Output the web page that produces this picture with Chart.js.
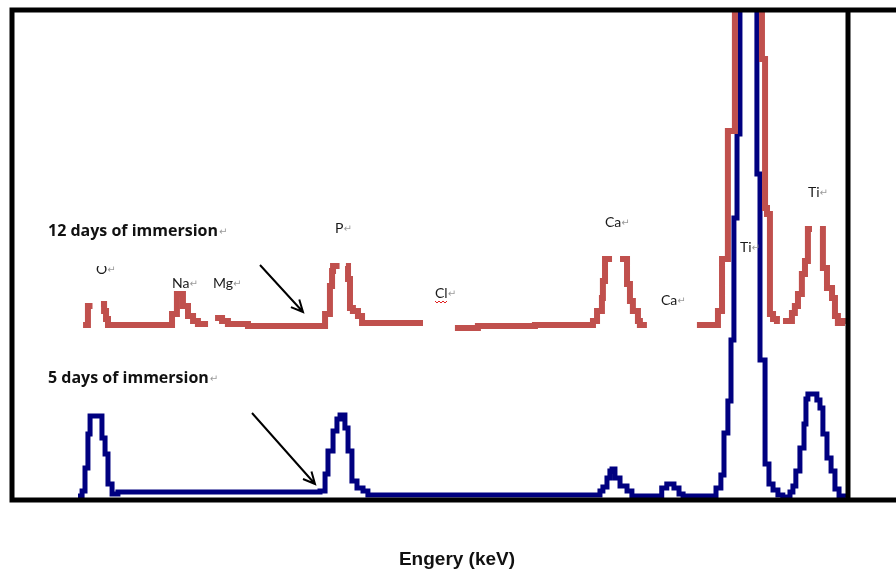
<!DOCTYPE html>
<html>
<head>
<meta charset="utf-8">
<script src="https://cdn.jsdelivr.net/npm/chart.js@4.4.0/dist/chart.umd.min.js"></script>
<style>
  html, body { margin: 0; padding: 0; background: #fff; }
  #wrap { width: 896px; height: 570px; }
</style>
</head>
<body>
<div id="wrap"><canvas id="eds"></canvas></div>
<script>
// EDS spectra. energy in keV, intensity in arbitrary units.
// null = place where the original trace is hidden under a text box
var energy12 = [0.436, 0.466, 0.494, 0.52, 0.546, 0.565, 0.577, 0.589, 0.969, 0.982, 1.012, 1.049, 1.080, 1.111, 1.141, 1.203, 1.22,
  1.246, 1.289, 1.325, 1.448, 1.921, 1.951, 1.964, 1.970, 2.010, 2.03, 2.049, 2.062, 2.074, 2.092, 2.123, 2.148, 2.522, 2.6,
  2.718, 2.859, 3.209, 3.565, 3.590, 3.620, 3.626, 3.639, 3.682, 3.70, 3.731, 3.774, 3.792, 3.810, 3.841, 3.853, 3.896, 4.0,
  4.203, 4.332, 4.357, 4.393, 4.436, 4.602, 4.621, 4.633, 4.651, 4.670, 4.694, 4.712, 4.72,
  4.731, 4.786, 4.804, 4.823, 4.847, 4.866, 4.884, 4.909, 4.93, 4.958, 4.976, 5.001, 5.032, 5.050, 5.068, 5.093, 5.117];
var counts12 = [175, 194, 194, null, 196, 189, 181, 175, 175, 186, 206, 194, 184, 179, 176, 176, null,
  182, 179, 176, 174, 186, 214, 229, 234, 234, null, 234, 221, 192, 189, 184, 177, 177, null,
  172, 174, 175, 179, 189, 202, 219, 241, 241, null, 241, 216, 199, 189, 179, 175, 175, null,
  175, 189, 241, 369, 560, 441, 292, 286, 186, 181, 179, 179, null,
  179, 187, 194, 206, 226, 239, 271, 271, null, 271, 232, 212, 202, 184, 177, 179, 179];

var energy5 = [0.405, 0.430, 0.448, 0.466, 0.479, 0.552, 0.571, 0.589, 0.614, 0.650, 1.890, 1.921, 1.939, 1.970, 1.994,
  2.013, 2.043, 2.062, 2.086, 2.117, 2.154, 2.184, 3.608, 3.626, 3.651, 3.669, 3.682, 3.700, 3.731, 3.774, 3.804,
  3.987, 4.018, 4.062, 4.093, 4.118, 4.320, 4.350, 4.369, 4.393, 4.412, 4.430, 4.449, 4.467, 4.571, 4.590, 4.621,
  4.645, 4.670, 4.700, 4.730, 4.774, 4.792, 4.810, 4.835, 4.860, 4.872, 4.884, 4.939, 4.958, 4.976, 5.001, 5.026,
  5.050, 5.075, 5.117];
var counts5 = [4, 9, 32, 66, 84, 62, 46, 16, 6, 8, 9, 26, 49, 69, 81,
  85, 72, 49, 19, 12, 9, 5, 9, 13, 22, 29, 31, 22, 14, 9, 4,
  12, 16, 12, 6, 4, 12, 25, 67, 99, 160, 282, 366, 560, 326, 140, 36,
  16, 10, 5, 3, 8, 14, 29, 52, 76, 101, 106, 100, 92, 66, 42, 29,
  11, 4, 3];

var seriesNames = ["12 days of immersion", "5 days of immersion"];
var peakNames = ["O", "Na", "Mg", "P", "Cl", "Ca", "Ca", "Ti", "Ti"];
var axisTitle = "Engery (keV)";

function toPoints(xs, ys) {
  return xs.map(function (x, i) { return { x: x, y: ys[i] }; });
}

// text boxes, arrows and the frame of the original figure
var extras = {
  id: "extras",
  afterDraw: function (chart) {
    var ctx = chart.ctx, a = chart.chartArea, w = chart.width;
    ctx.save();

    // frame: top and bottom run out to the page edge
    ctx.strokeStyle = "#000";
    ctx.lineWidth = 5;
    ctx.beginPath();
    ctx.moveTo(w, a.top);
    ctx.lineTo(a.left, a.top);
    ctx.lineTo(a.left, a.bottom);
    ctx.lineTo(w, a.bottom);
    ctx.moveTo(a.right, a.top);
    ctx.lineTo(a.right, a.bottom);
    ctx.stroke();

    function retMark(x, y) {
      ctx.fillStyle = "#9a9a9a";
      ctx.font = "10px 'DejaVu Sans'";
      ctx.fillText("\u21b5", x, y - 1);
    }

    // series captions
    var capPos = [[48, 236], [48, 383]];
    ctx.textBaseline = "alphabetic";
    ctx.textAlign = "left";
    seriesNames.forEach(function (t, i) {
      ctx.fillStyle = "#111";
      ctx.font = "bold 16px 'Open Sans'";
      ctx.fillText(t, capPos[i][0], capPos[i][1]);
      retMark(capPos[i][0] + ctx.measureText(t).width + 1, capPos[i][1]);
    });

    // element labels
    var peakPos = [[96, 274], [172, 288], [213, 288], [335, 233], [435, 298], [605, 227], [661, 305], [740, 252], [808, 197]];
    peakNames.forEach(function (t, i) {
      var x = peakPos[i][0], y = peakPos[i][1];
      ctx.save();
      if (i === 0) {
        ctx.beginPath();
        ctx.rect(x - 5, 266, 40, 20);
        ctx.clip();
      }
      ctx.fillStyle = "#1a1a1a";
      ctx.font = "14px Lato";
      ctx.fillText(t, x, y);
      var tw = ctx.measureText(t).width;
      retMark(x + tw, y);
      ctx.restore();
      if (t === "Cl") {
        ctx.strokeStyle = "#e02020";
        ctx.lineWidth = 1;
        ctx.beginPath();
        for (var k = 0; k <= tw; k += 2) {
          ctx.lineTo(x + k, y + 3 + (k % 4 === 0 ? 0 : 2));
        }
        ctx.stroke();
      }
    });

    // arrows
    ctx.strokeStyle = "#000";
    ctx.lineWidth = 2;
    [[260, 265, 303, 312], [252, 413, 315, 484]].forEach(function (ar) {
      var ang = Math.atan2(ar[3] - ar[1], ar[2] - ar[0]);
      ctx.beginPath();
      ctx.moveTo(ar[0], ar[1]);
      ctx.lineTo(ar[2], ar[3]);
      ctx.moveTo(ar[2] - 13 * Math.cos(ang - 0.45), ar[3] - 13 * Math.sin(ang - 0.45));
      ctx.lineTo(ar[2], ar[3]);
      ctx.lineTo(ar[2] - 13 * Math.cos(ang + 0.45), ar[3] - 13 * Math.sin(ang + 0.45));
      ctx.stroke();
    });

    // axis title
    ctx.fillStyle = "#111";
    ctx.font = "bold 19px 'Liberation Sans'";
    ctx.textAlign = "center";
    ctx.fillText(axisTitle, 457, 565);
    ctx.restore();
  }
};

var ctx = document.getElementById("eds").getContext("2d");
var edsChart = new Chart(ctx, {
  type: "line",
  data: {
    datasets: [
      {
        label: seriesNames[0],
        data: toPoints(energy12, counts12),
        borderColor: "#C0504D",
        borderWidth: 6,
        stepped: true,
        pointRadius: 0,
        spanGaps: false,
      },
      {
        label: seriesNames[1],
        data: toPoints(energy5, counts5),
        borderColor: "#000080",
        borderWidth: 5,
        stepped: true,
        pointRadius: 0,
        spanGaps: false,
      },
    ],
  },
  options: {
    responsive: true,
    maintainAspectRatio: false,
    animation: false,
    layout: { padding: { left: 12, top: 10, right: 48, bottom: 70 } },
    scales: {
      x: { type: "linear", min: 0, max: 5.13, display: false },
      y: { min: 0, max: 490, display: false },
    },
    plugins: {
      legend: { display: false },
      tooltip: { enabled: false },
    },
  },
  plugins: [extras],
});
</script>
</body>
</html>
